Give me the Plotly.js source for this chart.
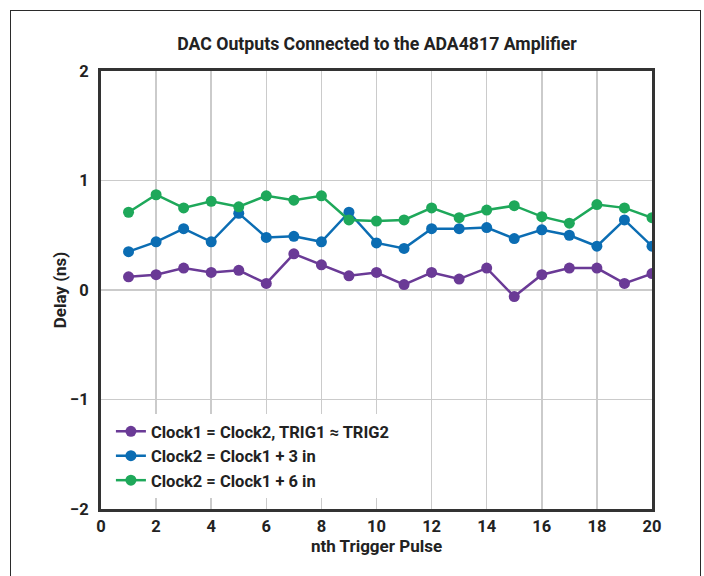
<!DOCTYPE html>
<html>
<head>
<meta charset="utf-8">
<script src="https://cdn.plot.ly/plotly-3.0.1.min.js"></script>
<style>
  html, body { margin: 0; padding: 0; background: #fff; overflow: hidden; }
  #frame { position: absolute; left: 10px; top: 10px; width: 691px; height: 620px; border: 1.5px solid #2b2b2b; box-sizing: border-box; }
  #chart { position: absolute; left: 0; top: 0; width: 704px; height: 576px; }
</style>
</head>
<body>
<div id="frame"></div>
<div id="chart"></div>
<script>
const pulses = [1,2,3,4,5,6,7,8,9,10,11,12,13,14,15,16,17,18,19,20];
const seriesNames = [
  "Clock1 = Clock2, TRIG1 \u2248 TRIG2",
  "Clock2 = Clock1 + 3 in",
  "Clock2 = Clock1 + 6 in"
];
const sameClock = [0.12,0.14,0.20,0.16,0.18,0.06,0.33,0.23,0.13,0.16,0.05,0.16,0.10,0.20,-0.06,0.14,0.20,0.20,0.06,0.15];
const plus3in   = [0.35,0.44,0.56,0.44,0.70,0.48,0.49,0.44,0.71,0.43,0.38,0.56,0.56,0.57,0.47,0.55,0.50,0.40,0.64,0.40];
const plus6in   = [0.71,0.87,0.75,0.81,0.76,0.86,0.82,0.86,0.64,0.63,0.64,0.75,0.66,0.73,0.77,0.67,0.61,0.78,0.75,0.66];
const xTicks = [0,2,4,6,8,10,12,14,16,18,20];
const yTicks = [-2,-1,0,1,2];

const colors = ["#6a3a96", "#0b6db3", "#1ea85a"];
const values = [sameClock, plus3in, plus6in];

const traces = values.map((v, i) => ({
  x: pulses, y: v, name: "<b>" + seriesNames[i] + "</b>", type: "scatter", mode: "lines+markers",
  line: { color: colors[i], width: 2.5 },
  marker: { color: colors[i], size: 11 }
}));

const fontFam = "Roboto, 'Liberation Sans', sans-serif";
const layout = {
  width: 704, height: 576,
  paper_bgcolor: "rgba(0,0,0,0)", plot_bgcolor: "#fff",
  margin: { l: 101, r: 52, t: 71, b: 67 },
  font: { family: fontFam, color: "#222", size: 15 },
  title: { text: "<b>DAC Outputs Connected to the ADA4817 Amplifier</b>", x: 0.5355, xanchor: "center", y: 0.924, yanchor: "middle", font: { size: 17.7, color: "#222" } },
  xaxis: {
    range: [0, 20], tickvals: xTicks, ticktext: xTicks.map(t => "<b>" + t + "</b>"),
    showgrid: true, gridcolor: "#cbcbcb", gridwidth: 1.5,
    showline: true, linecolor: "#333", linewidth: 3, mirror: true,
    ticks: "", zeroline: false, tickfont: { size: 16.5 },
    title: { text: "<b>nth Trigger Pulse</b>", font: { size: 17 }, standoff: 6 }
  },
  yaxis: {
    range: [-2, 2], tickvals: yTicks, ticktext: yTicks.map(t => "<b>" + (t < 0 ? "\u2212" + (-t) : t) + "</b>"),
    showgrid: true, gridcolor: "#cbcbcb", gridwidth: 1.5,
    showline: true, linecolor: "#333", linewidth: 3, mirror: true,
    ticks: "", zeroline: false, tickfont: { size: 16.5 }, ticklabelstandoff: 6,
    title: { text: "<b>Delay (ns)</b>", font: { size: 17 }, standoff: 0 }
  },
  legend: {
    x: 0.018, y: 0.025, xanchor: "left", yanchor: "bottom",
    bgcolor: "#fff", borderwidth: 0, tracegroupgap: 0,
    font: { size: 16.5, color: "#222" }, itemwidth: 30
  },
  showlegend: true
};
Plotly.newPlot("chart", traces, layout, { displayModeBar: false, staticPlot: true });
</script>
</body>
</html>
